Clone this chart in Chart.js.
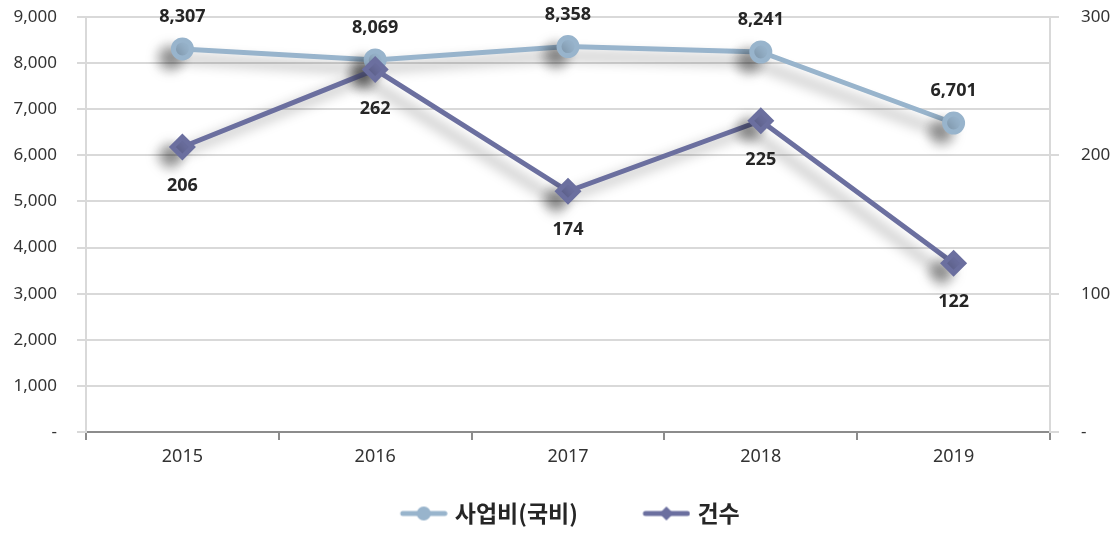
<!DOCTYPE html>
<html>
<head>
<meta charset="utf-8">
<script src="https://cdn.jsdelivr.net/npm/chart.js@4.4.1/dist/chart.umd.min.js"></script>
<style>
  html, body { margin: 0; padding: 0; background: #fff; }
  #wrap { width: 1120px; height: 535px; }
</style>
</head>
<body>
<div id="wrap"><canvas id="chart"></canvas></div>
<script>
const years = ["2015", "2016", "2017", "2018", "2019"];
const budget = [8307, 8069, 8358, 8241, 6701];   // 사업비(국비)
const counts = [206, 262, 174, 225, 122];         // 건수

const lightColor = "#98B4CC";
const darkColor = "#6B6F9F";
const gridColor = "#D9D9D9";

function fmt(v) {
  return v === 0 ? "-" : v.toLocaleString("en-US");
}

// legend: the marker box is wider than the icon, the empty left part gives the gap
const LEG_FONT = 23;
const BOX_W = 103;
const ICON_W = BOX_W + LEG_FONT - 14;
function legendIcon(color, style) {
  const c = document.createElement("canvas");
  c.width = ICON_W;
  c.height = 20;
  const g = c.getContext("2d");
  const x0 = ICON_W - 48;
  g.strokeStyle = color;
  g.lineWidth = 5;
  g.lineCap = "round";
  g.beginPath();
  g.moveTo(x0 + 3, 10);
  g.lineTo(x0 + 45, 10);
  g.stroke();
  g.fillStyle = color;
  g.beginPath();
  if (style === "circle") {
    g.arc(x0 + 24, 10, 7, 0, Math.PI * 2);
  } else {
    g.moveTo(x0 + 24, 3);
    g.lineTo(x0 + 31, 10);
    g.lineTo(x0 + 24, 17);
    g.lineTo(x0 + 17, 10);
    g.closePath();
  }
  g.fill();
  return c;
}

const shadowPlugin = {
  id: "shadow",
  beforeDatasetDraw(chart) {
    const ctx = chart.ctx;
    ctx.save();
    ctx.shadowColor = "rgba(0,0,0,0.4)";
    ctx.shadowBlur = 13;
    ctx.shadowOffsetX = -12;
    ctx.shadowOffsetY = 9;
  },
  afterDatasetDraw(chart) {
    chart.ctx.restore();
  },
};

const valueLabels = {
  id: "valueLabels",
  afterDatasetsDraw(chart) {
    const ctx = chart.ctx;
    ctx.save();
    ctx.font = "bold 18px 'Noto Sans', 'Open Sans', sans-serif";
    ctx.fillStyle = "#262626";
    ctx.textAlign = "center";
    ctx.textBaseline = "middle";
    chart.data.datasets.forEach((ds, i) => {
      const meta = chart.getDatasetMeta(i);
      meta.data.forEach((pt, j) => {
        const dy = ds.yAxisID === "y" ? -32 : 39;
        ctx.fillText(fmt(ds.data[j]), pt.x, pt.y + dy);
      });
    });
    ctx.restore();
  },
};

// nudge the legend a bit left to sit like the original
const legendShift = {
  id: "legendShift",
  afterLayout(chart) {
    chart.legend.left -= 20;
    chart.legend.right -= 20;
  },
};

function fixPad(scale) {
  scale.paddingTop = 17;
  scale.paddingBottom = 0;
}

new Chart(document.getElementById("chart").getContext("2d"), {
  type: "line",
  data: {
    labels: years,
    datasets: [
      {
        label: "사업비(국비)",
        data: budget,
        yAxisID: "y",
        borderColor: lightColor,
        backgroundColor: lightColor,
        borderWidth: 5,
        pointStyle: "circle",
        pointRadius: 9,
        pointHoverRadius: 9,
        order: 1,
      },
      {
        label: "건수",
        data: counts,
        yAxisID: "y2",
        borderColor: darkColor,
        backgroundColor: darkColor,
        borderWidth: 5,
        pointStyle: "rectRot",
        pointRadius: 10,
        pointHoverRadius: 10,
        order: 0,
      },
    ],
  },
  options: {
    responsive: true,
    maintainAspectRatio: false,
    animation: false,
    layout: { padding: 0 },
    scales: {
      x: {
        offset: true,
        grid: {
          offset: true,
          drawOnChartArea: false,
          color: "#8C8C8C",
          tickLength: 8,
          lineWidth: 2,
        },
        border: { color: "#8C8C8C", width: 2 },
        ticks: {
          color: "#333",
          font: { size: 18, family: "'Noto Sans', 'Open Sans', sans-serif" },
          padding: 6,
        },
        afterFit(scale) { scale.height = 65; },
      },
      y: {
        position: "left",
        min: 0,
        max: 9000,
        ticks: {
          stepSize: 1000,
          color: "#333",
          font: { size: 17, family: "'Noto Sans', 'Open Sans', sans-serif" },
          padding: 20,
          callback: (v) => fmt(v),
        },
        grid: { color: gridColor, lineWidth: 2, tickLength: 9 },
        border: { color: gridColor, width: 2 },
        afterFit(scale) { scale.width = 86; fixPad(scale); },
      },
      y2: {
        position: "right",
        min: 0,
        max: 300,
        ticks: {
          stepSize: 100,
          color: "#333",
          font: { size: 17, family: "'Noto Sans', 'Open Sans', sans-serif" },
          padding: 22,
          callback: (v) => fmt(v),
        },
        grid: { drawOnChartArea: false, color: gridColor, lineWidth: 2, tickLength: 9 },
        border: { color: gridColor, width: 2 },
        afterFit(scale) { scale.width = 70; fixPad(scale); },
      },
    },
    plugins: {
      tooltip: { enabled: false },
      legend: {
        position: "bottom",
        labels: {
          usePointStyle: true,
          pointStyleWidth: BOX_W,
          padding: 5,
          color: "#262626",
          font: { size: LEG_FONT, weight: "bold", family: "'Noto Sans CJK KR', sans-serif" },
          generateLabels() {
            return [
              { text: "사업비(국비)", pointStyle: legendIcon(lightColor, "circle"), datasetIndex: 0, fontColor: "#262626" },
              { text: "건수", pointStyle: legendIcon(darkColor, "diamond"), datasetIndex: 1, fontColor: "#262626" },
            ];
          },
        },
      },
    },
  },
  plugins: [shadowPlugin, valueLabels, legendShift],
});
</script>
</body>
</html>
